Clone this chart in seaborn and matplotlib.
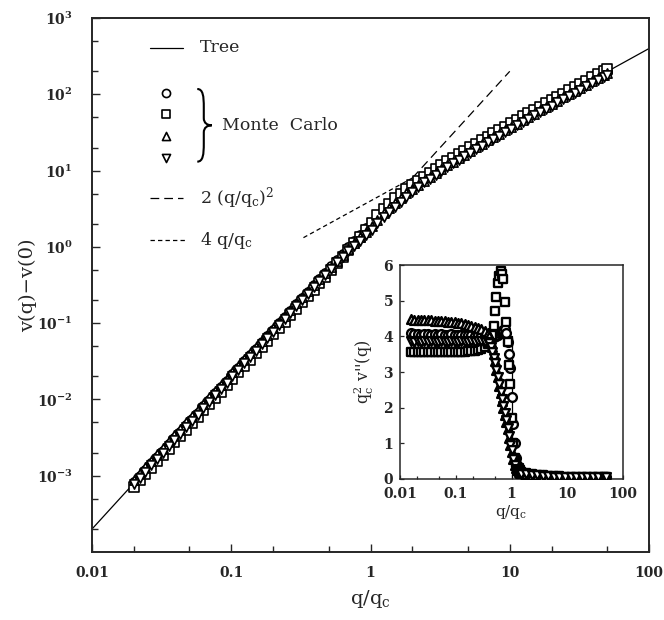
import numpy as np
import pandas as pd
import matplotlib
matplotlib.use('Agg')
import matplotlib.pyplot as plt
import seaborn as sns
from matplotlib import ticker
from matplotlib.path import Path
from matplotlib.patches import PathPatch
from matplotlib.transforms import Affine2D

# q/q_c grid of the Monte Carlo points (main panel)
mc_q = [0.0200, 0.0220, 0.0242, 0.0266, 0.0293, 0.0322, 0.0355, 0.0391, 0.0430, 0.0473, 0.0521, 0.0573,
        0.0631, 0.0695, 0.0764, 0.0841, 0.0926, 0.102, 0.112, 0.124, 0.136, 0.150, 0.165, 0.181,
        0.200, 0.220, 0.242, 0.266, 0.293, 0.322, 0.355, 0.391, 0.430, 0.473, 0.521, 0.573,
        0.631, 0.695, 0.764, 0.841, 0.926, 1.02, 1.12, 1.24, 1.36, 1.50, 1.65, 1.81,
        2.00, 2.20, 2.42, 2.66, 2.93, 3.22, 3.55, 3.91, 4.30, 4.73, 5.21, 5.73,
        6.31, 6.95, 7.64, 8.41, 9.26, 10.2, 11.2, 12.4, 13.6, 15.0, 16.5, 18.1,
        20.0, 22.0, 24.2, 26.6, 29.3, 32.2, 35.5, 39.1, 43.0, 47.3, 50.0]

# v(q)-v(0) for the four Monte Carlo runs
mc_circle = [0.000820, 0.000992, 0.00120, 0.00145, 0.00176, 0.00213, 0.00258, 0.00313, 0.00379, 0.00459, 0.00556, 0.00673,
             0.00816, 0.00990, 0.0120, 0.0145, 0.0176, 0.0213, 0.0257, 0.0315, 0.0379, 0.0461, 0.0558, 0.0672,
             0.0820, 0.0992, 0.120, 0.145, 0.176, 0.213, 0.258, 0.313, 0.379, 0.459, 0.556, 0.673,
             0.816, 0.995, 1.21, 1.45, 1.75, 2.06, 2.45, 2.93, 3.41, 3.97, 4.58, 5.22,
             6.00, 6.80, 7.68, 8.64, 9.72, 10.9, 12.2, 13.6, 15.2, 16.9, 18.8, 20.9,
             23.2, 25.8, 28.6, 31.6, 35.0, 38.8, 42.8, 47.6, 52.4, 58.0, 64.0, 70.4,
             78.0, 86.0, 94.8, 104, 115, 127, 140, 154, 170, 187, 198]
mc_square = [0.000720, 0.000871, 0.00105, 0.00127, 0.00155, 0.00187, 0.00227, 0.00275, 0.00333, 0.00403, 0.00489, 0.00591,
             0.00717, 0.00869, 0.0105, 0.0127, 0.0154, 0.0187, 0.0226, 0.0277, 0.0333, 0.0405, 0.0490, 0.0590,
             0.0720, 0.0871, 0.105, 0.127, 0.155, 0.187, 0.227, 0.275, 0.335, 0.408, 0.500, 0.610,
             0.745, 0.905, 1.11, 1.36, 1.66, 2.05, 2.58, 3.12, 3.70, 4.32, 4.97, 5.66,
             6.48, 7.34, 8.29, 9.33, 10.5, 11.8, 13.2, 14.7, 16.4, 18.3, 20.3, 22.6,
             25.1, 27.9, 30.8, 34.2, 37.8, 41.9, 46.2, 51.4, 56.6, 62.6, 69.1, 76.0,
             84.2, 92.9, 102, 113, 124, 137, 151, 167, 184, 202, 214]
mc_tri_up = [0.000892, 0.00108, 0.00131, 0.00158, 0.00191, 0.00231, 0.00281, 0.00341, 0.00412, 0.00499, 0.00605, 0.00732,
             0.00880, 0.0107, 0.0128, 0.0156, 0.0188, 0.0228, 0.0273, 0.0335, 0.0401, 0.0488, 0.0588, 0.0708,
             0.0860, 0.104, 0.125, 0.150, 0.181, 0.218, 0.262, 0.317, 0.379, 0.456, 0.548, 0.657,
             0.78, 0.93, 1.12, 1.33, 1.58, 1.87, 2.28, 2.78, 3.25, 3.80, 4.40, 5.03,
             5.76, 6.53, 7.37, 8.29, 9.33, 10.4, 11.7, 13.1, 14.6, 16.2, 18.1, 20.1,
             22.3, 24.8, 27.4, 30.4, 33.6, 37.2, 41.1, 45.7, 50.3, 55.7, 61.4, 67.6,
             74.9, 82.6, 91.0, 100, 111, 122, 134, 148, 163, 180, 190]
mc_tri_down = [0.000772, 0.000934, 0.00113, 0.00137, 0.00166, 0.00200, 0.00243, 0.00295, 0.00357, 0.00432, 0.00524, 0.00634,
               0.00769, 0.00932, 0.0113, 0.0137, 0.0166, 0.0201, 0.0242, 0.0297, 0.0357, 0.0434, 0.0525, 0.0632,
               0.0772, 0.0934, 0.113, 0.137, 0.166, 0.200, 0.243, 0.295, 0.357, 0.430, 0.520, 0.625,
               0.74, 0.87, 1.02, 1.20, 1.42, 1.67, 2.04, 2.43, 2.85, 3.35, 3.90, 4.50,
               5.20, 6.00, 7.00, 7.86, 8.85, 9.90, 11.1, 12.4, 13.8, 15.4, 17.1, 19.0,
               21.1, 23.5, 26.0, 28.8, 31.9, 35.3, 39.0, 43.3, 47.7, 52.8, 58.2, 64.1,
               71.0, 78.3, 86.3, 95.0, 105, 115, 127, 140, 155, 170, 180]

# tree solution and the two asymptotes
tree_q = [0.01, 1.0, 1.1, 1.25, 1.5, 1.75, 2.0, 2.5, 3.0, 4.0, 5.0, 7.0, 10.0, 20.0, 50.0, 100.0]
tree_v = [0.0002, 2.0, 2.4, 3.0, 4.0, 5.0, 6.0, 8.0, 10.0, 14.0, 18.0, 26.0, 38.0, 78.0, 198.0, 398.0]
quad_q = [2.0, 10.0]
quad_v = [8.0, 200.0]
lin_q = [0.33, 2.0]
lin_v = [1.32, 8.0]

# inset: q_c^2 v''(q)
in_q = [0.0158, 0.0182, 0.0209, 0.0240, 0.0275, 0.0316, 0.0363, 0.0417, 0.0479, 0.0550, 0.0631, 0.0724,
        0.0832, 0.0955, 0.110, 0.126, 0.145, 0.166, 0.191, 0.219, 0.251, 0.288, 0.331, 0.380,
        0.403, 0.427, 0.452, 0.479, 0.507, 0.537, 0.569, 0.603, 0.638, 0.676, 0.716, 0.759,
        0.804, 0.851, 0.902, 0.955, 1.01, 1.07, 1.14, 1.20, 1.27, 1.35, 1.43, 1.51,
        1.82, 2.29, 2.88, 3.63, 4.57, 5.75, 7.24, 9.12, 11.5, 14.5, 18.2, 22.9, 28.8, 36.3, 45.7, 50.1]
in_circle = [4.08, 4.06, 4.07, 4.05, 4.06, 4.07, 4.05, 4.06, 4.04, 4.06, 4.05, 4.04,
             4.06, 4.05, 4.03, 4.05, 4.04, 4.03, 4.04, 4.02, 4.03, 4.02, 4.01, 4.00,
             4.00, 3.98, 3.97, 3.98, 4.00, 4.02, 4.05, 4.08, 4.12, 4.15, 4.18, 4.20,
             4.10, 3.85, 3.50, 3.10, 2.30, 1.55, 1.00, 0.60, 0.40, 0.30, 0.24, 0.20,
             0.16, 0.13, 0.11, 0.10, 0.09, 0.08, 0.08, 0.07, 0.07, 0.06, 0.06, 0.06, 0.05, 0.05, 0.05, 0.05]
in_square = [3.56, 3.55, 3.57, 3.55, 3.56, 3.55, 3.56, 3.57, 3.55, 3.56, 3.55, 3.56,
             3.57, 3.55, 3.56, 3.56, 3.57, 3.58, 3.58, 3.60, 3.62, 3.65, 3.70, 3.78,
             3.85, 3.95, 4.05, 4.30, 4.70, 5.10, 5.50, 5.70, 5.82, 5.75, 5.60, 4.95,
             4.40, 3.85, 3.20, 2.65, 1.70, 1.00, 0.60, 0.45, 0.35, 0.30, 0.25, 0.20,
             0.16, 0.13, 0.11, 0.10, 0.09, 0.08, 0.08, 0.07, 0.07, 0.07, 0.06, 0.06, 0.06, 0.05, 0.05, 0.05]
in_tri_up = [4.48, 4.47, 4.47, 4.46, 4.46, 4.45, 4.45, 4.44, 4.43, 4.43, 4.42, 4.41,
             4.40, 4.39, 4.37, 4.36, 4.34, 4.32, 4.30, 4.27, 4.24, 4.20, 4.15, 4.08,
             4.00, 3.85, 3.70, 3.50, 3.30, 3.05, 2.85, 2.60, 2.40, 2.20, 2.00, 1.80,
             1.60, 1.40, 1.15, 0.95, 0.75, 0.55, 0.40, 0.30, 0.25, 0.20, 0.18, 0.16,
             0.14, 0.12, 0.10, 0.09, 0.08, 0.08, 0.07, 0.07, 0.06, 0.06, 0.06, 0.05, 0.05, 0.05, 0.05, 0.05]
in_tri_down = [3.86, 3.85, 3.86, 3.85, 3.86, 3.85, 3.86, 3.85, 3.85, 3.86, 3.85, 3.85,
               3.86, 3.85, 3.85, 3.86, 3.85, 3.85, 3.86, 3.85, 3.86, 3.86, 3.85, 3.85,
               3.82, 3.70, 3.55, 3.40, 3.25, 3.05, 2.85, 2.65, 2.45, 2.25, 2.05, 1.85,
               1.65, 1.42, 1.20, 0.95, 0.80, 0.55, 0.38, 0.28, 0.22, 0.18, 0.16, 0.14,
               0.13, 0.11, 0.10, 0.09, 0.08, 0.07, 0.07, 0.06, 0.06, 0.06, 0.05, 0.05, 0.05, 0.05, 0.05, 0.05]
tree_curv_q = [0.016, 1.0, 1.0, 100.0]
tree_curv = [4.0, 4.0, 0.0, 0.0]

x_ticks = [0.01, 0.1, 1, 10, 100]
x_ticklabels = ['0.01', '0.1', '1', '10', '100']
y_ticks = [1e-3, 1e-2, 1e-1, 1e0, 1e1, 1e2, 1e3]
in_y_ticks = [0, 1, 2, 3, 4, 5, 6]

sns.set_style('ticks')
plt.rcParams['font.family'] = ['DejaVu Serif']
plt.rcParams['mathtext.fontset'] = 'dejavuserif'
plt.rcParams['axes.linewidth'] = 1.4

series_main = [('o', mc_circle), ('s', mc_square), ('^', mc_tri_up), ('v', mc_tri_down)]
series_in = [('o', in_circle), ('s', in_square), ('^', in_tri_up), ('v', in_tri_down)]

fig = plt.figure(figsize=(6.64, 6.2), dpi=100)
ax = fig.add_axes([92 / 664, 68 / 620, 557 / 664, 534 / 620])
ax.set_xscale('log')
ax.set_yscale('log')

sns.lineplot(x=tree_q, y=tree_v, color='black', lw=0.9, ax=ax, estimator=None, sort=False, zorder=2)
for m, v in series_main:
    sns.scatterplot(x=mc_q, y=v, marker=m, s=44, color='white', edgecolor='black',
                    linewidth=1.2, ax=ax, zorder=3)
ax.plot(quad_q, quad_v, color='black', lw=0.9, dashes=(7, 4))
ax.plot(lin_q, lin_v, color='black', lw=0.9, dashes=(3.5, 2.5))

ax.set_xlim(0.01, 100)
ax.set_ylim(1e-4, 1e3)
ax.xaxis.set_major_locator(ticker.FixedLocator(x_ticks))
ax.xaxis.set_major_formatter(ticker.FixedFormatter(x_ticklabels))
ax.xaxis.set_minor_locator(ticker.LogLocator(base=10, subs=(2, 5), numticks=20))
ax.xaxis.set_minor_formatter(ticker.NullFormatter())
ax.yaxis.set_major_locator(ticker.FixedLocator(y_ticks))
ax.yaxis.set_major_formatter(ticker.LogFormatterSciNotation())
ax.yaxis.set_minor_locator(ticker.LogLocator(base=10, subs=(2, 5), numticks=20))
ax.yaxis.set_minor_formatter(ticker.NullFormatter())
ax.tick_params(which='both', direction='in', top=False, right=False, width=1.0)
ax.tick_params(which='major', length=6, labelsize=10)
ax.tick_params(which='minor', length=4.5)
ax.tick_params(axis='x', pad=10)
ax.tick_params(axis='y', pad=14)
for lab in ax.get_xticklabels() + ax.get_yticklabels():
    lab.set_fontweight('bold')
ax.set_xlabel('q/q$_{\\rm c}$', fontsize=14, labelpad=6)
ax.set_ylabel('v(q)\u2212v(0)', fontsize=14, labelpad=0)

# hand-made key
ax.plot([0.104, 0.163], [0.944, 0.944], color='black', lw=0.9, transform=ax.transAxes)
ax.text(0.193, 0.944, 'Tree', transform=ax.transAxes, fontsize=12.5, va='center')
for (m, _), fy in zip(series_main, [0.860, 0.820, 0.779, 0.738]):
    ax.scatter([0.132], [fy], marker=m, s=34, facecolor='white', edgecolor='black',
               linewidth=1.2, transform=ax.transAxes)
brace = Path([(0, 1), (0.4, 1), (0.45, 0.9), (0.45, 0.75), (0.45, 0.6),
              (0.45, 0.53), (0.7, 0.5), (1, 0.5), (0.7, 0.5), (0.45, 0.47), (0.45, 0.4),
              (0.45, 0.25), (0.45, 0.1), (0.4, 0), (0, 0)],
             [Path.MOVETO, Path.CURVE4, Path.CURVE4, Path.CURVE4, Path.LINETO,
              Path.CURVE4, Path.CURVE4, Path.CURVE4, Path.CURVE4, Path.CURVE4, Path.CURVE4,
              Path.LINETO, Path.CURVE4, Path.CURVE4, Path.CURVE4])
brace_tr = Affine2D().scale(0.026, 0.136).translate(0.189, 0.731)
ax.add_patch(PathPatch(brace, transform=brace_tr + ax.transAxes, fill=False, lw=1.5, edgecolor='black'))
ax.text(0.234, 0.798, 'Monte  Carlo', transform=ax.transAxes, fontsize=12.5, va='center')
ax.plot([0.104, 0.163], [0.663, 0.663], color='black', lw=0.9, dashes=(7, 4), transform=ax.transAxes)
ax.text(0.193, 0.663, '2 (q/q$_{\\rm c}$)$^{2}$', transform=ax.transAxes, fontsize=12.5, va='center')
ax.plot([0.104, 0.167], [0.584, 0.584], color='black', lw=0.9, dashes=(3.5, 2.5), transform=ax.transAxes)
ax.text(0.193, 0.584, '4 q/q$_{\\rm c}$', transform=ax.transAxes, fontsize=12.5, va='center')

# inset: curvature
axi = fig.add_axes([400 / 664, 141 / 620, 223 / 664, 214 / 620])
axi.set_xscale('log')
sns.lineplot(x=tree_curv_q, y=tree_curv, color='black', lw=0.9, ax=axi, estimator=None, sort=False, zorder=2)
for m, v in series_in:
    sns.scatterplot(x=in_q, y=v, marker=m, s=40, color='white', edgecolor='black',
                    linewidth=1.7, ax=axi, zorder=3)
axi.set_xlim(0.01, 100)
axi.set_ylim(0, 6)
axi.xaxis.set_major_locator(ticker.FixedLocator(x_ticks))
axi.xaxis.set_major_formatter(ticker.FixedFormatter(x_ticklabels))
axi.xaxis.set_minor_locator(ticker.LogLocator(base=10, subs=(2, 5), numticks=20))
axi.xaxis.set_minor_formatter(ticker.NullFormatter())
axi.yaxis.set_major_locator(ticker.FixedLocator(in_y_ticks))
axi.tick_params(which='both', direction='in', top=False, right=False, width=0.9)
axi.tick_params(which='major', length=3, labelsize=10)
axi.tick_params(which='minor', length=2)
axi.tick_params(axis='x', pad=6)
axi.tick_params(axis='y', pad=5)
for lab in axi.get_xticklabels() + axi.get_yticklabels():
    lab.set_fontweight('bold')
axi.set_xlabel('q/q$_{\\rm c}$', fontsize=11, labelpad=1)
axi.set_ylabel("$\\rm q_c^2$ v''(q)", fontsize=11.5, labelpad=5)
for sp in axi.spines.values():
    sp.set_linewidth(1.1)

fig.savefig('out.png', dpi=100)
